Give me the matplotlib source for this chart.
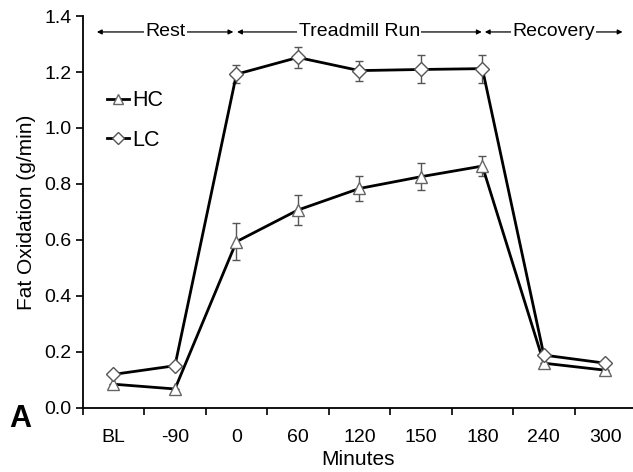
import matplotlib
matplotlib.use("Agg")
import matplotlib.pyplot as plt
import numpy as np

plt.rcParams['font.family'] = ['Liberation Sans', 'DejaVu Sans']

# data
labels = ['BL', '-90', '0', '60', '120', '150', '180', '240', '300']
hc = [0.085, 0.068, 0.594, 0.707, 0.784, 0.826, 0.864, 0.160, 0.135]
hc_err = [0.0, 0.0, 0.065, 0.055, 0.046, 0.049, 0.036, 0.0, 0.0]
lc = [0.120, 0.151, 1.192, 1.252, 1.205, 1.209, 1.212, 0.189, 0.160]
lc_err = [0.0, 0.0, 0.032, 0.038, 0.036, 0.050, 0.050, 0.0, 0.0]

phases = ['Rest', 'Treadmill Run', 'Recovery']
phase_start = [0.23, 2.51, 6.54]
phase_end = [2.45, 6.49, 8.78]

fig = plt.figure(figsize=(6.33, 4.72), dpi=100)
ax = fig.add_axes([0.1307, 0.1356, 0.8693, 0.8305])

x = np.arange(len(labels)) + 0.5

ax.errorbar(x, hc, yerr=hc_err, fmt='none', ecolor='#555555', elinewidth=1,
            capsize=3, capthick=1, zorder=2)
ax.errorbar(x, lc, yerr=lc_err, fmt='none', ecolor='#555555', elinewidth=1,
            capsize=3, capthick=1, zorder=2)
ax.plot(x, hc, color='black', lw=2, marker='^', markersize=9,
        markerfacecolor='white', markeredgecolor='#666666', markeredgewidth=1,
        label='HC', zorder=3)
ax.plot(x, lc, color='black', lw=2, marker='D', markersize=7.5,
        markerfacecolor='white', markeredgecolor='#555555', markeredgewidth=1,
        label='LC', zorder=3)

# phase arrows on top
for name, s, e in zip(phases, phase_start, phase_end):
    ax.annotate('', xy=(s, 1.343), xytext=(e, 1.343),
                arrowprops=dict(arrowstyle='<|-|>', lw=0.9, color='black',
                                mutation_scale=7, shrinkA=0, shrinkB=0))
    ax.text((s + e) / 2, 1.343, name, ha='center', va='center', fontsize=14,
            bbox=dict(facecolor='white', edgecolor='none', pad=1))

ax.set_xlim(0, 8.95)
ax.set_ylim(0, 1.4)
ax.set_xticks(np.arange(0, 9))
ax.set_xticklabels([])
ax.set_xticks(x, minor=True)
ax.set_xticklabels(labels, minor=True)
ax.tick_params(axis='x', which='minor', length=0, pad=15, labelsize=14)
ax.tick_params(axis='x', which='major', length=5, width=1.2, direction='out')
ax.set_yticks(np.arange(0, 1.41, 0.2))
ax.set_yticklabels(['%.1f' % v for v in np.arange(0, 1.41, 0.2)])
ax.tick_params(axis='y', length=5, width=1.2, direction='out', labelsize=14, pad=3)

for sp in ['top', 'right']:
    ax.spines[sp].set_visible(False)
for sp in ['left', 'bottom']:
    ax.spines[sp].set_linewidth(1.3)

ax.set_xlabel('Minutes', fontsize=15, labelpad=3)
ax.set_ylabel('Fat Oxidation (g/min)', fontsize=15, labelpad=6)

ax.legend(loc='upper left', bbox_to_anchor=(0.045, 0.81), frameon=False,
          fontsize=15.5, handlelength=1.0, handletextpad=0.15, labelspacing=0.85,
          borderpad=0, borderaxespad=0, markerscale=0.8)

fig.text(0.015, 0.113, 'A', fontsize=22, fontweight='bold', va='center')

fig.savefig('out.png', dpi=100)
